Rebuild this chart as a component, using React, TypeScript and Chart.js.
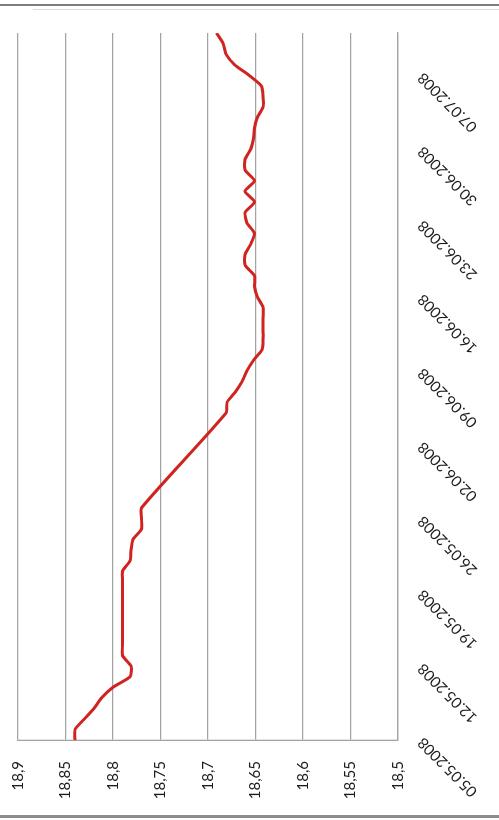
import React, { useEffect, useRef } from "react";
import { Chart, registerables } from "chart.js";

Chart.register(...registerables);

// Dates of the observations (dd.mm.yyyy)
const dates = [
  "05.05.2008", "06.05.2008", "07.05.2008", "08.05.2008", "09.05.2008", "10.05.2008",
  "11.05.2008", "12.05.2008", "13.05.2008", "14.05.2008", "15.05.2008", "16.05.2008",
  "17.05.2008", "18.05.2008", "19.05.2008", "20.05.2008", "21.05.2008", "22.05.2008",
  "23.05.2008", "24.05.2008", "25.05.2008", "26.05.2008", "27.05.2008",
  "05.06.2008", "06.06.2008", "07.06.2008", "08.06.2008", "09.06.2008", "10.06.2008",
  "11.06.2008", "12.06.2008", "13.06.2008", "14.06.2008", "15.06.2008", "16.06.2008",
  "17.06.2008", "18.06.2008", "19.06.2008", "20.06.2008", "21.06.2008", "22.06.2008",
  "23.06.2008", "24.06.2008", "25.06.2008", "26.06.2008", "27.06.2008", "28.06.2008",
  "29.06.2008", "30.06.2008", "01.07.2008", "02.07.2008", "03.07.2008", "04.07.2008",
  "05.07.2008", "06.07.2008", "07.07.2008", "08.07.2008", "09.07.2008", "10.07.2008",
  "11.07.2008",
];

const values = [
  18.84, 18.84, 18.83, 18.82, 18.812, 18.8,
  18.782, 18.781, 18.79, 18.79, 18.79, 18.79,
  18.79, 18.79, 18.79, 18.79, 18.79, 18.782,
  18.781, 18.779, 18.77, 18.77, 18.77,
  18.681, 18.68, 18.671, 18.664, 18.659, 18.652,
  18.643, 18.642, 18.642, 18.642, 18.642, 18.648,
  18.651, 18.651, 18.661, 18.661, 18.655, 18.651,
  18.659, 18.661, 18.651, 18.661, 18.651, 18.661,
  18.661, 18.655, 18.652, 18.651, 18.648, 18.642,
  18.642, 18.644, 18.657, 18.672, 18.681, 18.684,
  18.691,
];

const axisStart = "05.05.2008";
const axisEnd = "11.07.2008";

const dateTickLabels = [
  "05.05.2008", "12.05.2008", "19.05.2008", "26.05.2008", "02.06.2008",
  "09.06.2008", "16.06.2008", "23.06.2008", "30.06.2008", "07.07.2008",
];

const valueTicks = [18.5, 18.55, 18.6, 18.65, 18.7, 18.75, 18.8, 18.85, 18.9];

function toUTC(s: string): number {
  const [d, m, y] = s.split(".").map(Number);
  return Date.UTC(y, m - 1, d);
}
function dayOffset(s: string): number {
  return Math.round((toUTC(s) - toUTC(axisStart)) / 86400000);
}

const FONT = { family: "Lato, 'Open Sans', sans-serif", size: 15 };
const TEXT = "#1c1c1c";
const GRID = "#a3a3a3";

function ChartView() {
  const ref = useRef<HTMLCanvasElement | null>(null);
  useEffect(() => {
    if (!ref.current) return;
    const chart = new Chart(ref.current, {
      type: "line",
      data: {
        datasets: [
          {
            data: dates.map((d, i) => ({ x: dayOffset(d), y: values[i] })),
            borderColor: "#cf2420",
            borderWidth: 3,
            pointRadius: 0,
            tension: 0.2,
            fill: false,
          },
        ],
      },
      options: {
        animation: false,
        responsive: false,
        devicePixelRatio: 1,
        layout: { padding: { top: 18, right: 33, bottom: 0, left: 0 } },
        plugins: { legend: { display: false }, tooltip: { enabled: false } },
        scales: {
          x: {
            type: "linear",
            min: 0,
            max: dayOffset(axisEnd),
            afterBuildTicks: (s: any) => {
              s.ticks = dateTickLabels.map((l) => ({ value: dayOffset(l) }));
            },
            afterFit: (s: any) => {
              s.height = 101;
            },
            ticks: {
              autoSkip: false,
              minRotation: 45,
              maxRotation: 45,
              padding: 16,
              color: TEXT,
              font: FONT,
              callback: (v: any) => {
                const l = dateTickLabels.find((t) => dayOffset(t) === Math.round(Number(v)));
                return l || "";
              },
            },
            grid: { display: false, drawTicks: false },
            border: { display: true, color: GRID, width: 1.3 },
          },
          y: {
            type: "linear",
            min: 18.5,
            max: 18.9,
            afterBuildTicks: (s: any) => {
              s.ticks = valueTicks.map((v) => ({ value: v }));
            },
            afterFit: (s: any) => {
              s.width = 80;
              s.paddingTop = 0;
              s.paddingBottom = 0;
            },
            ticks: {
              padding: 21,
              color: TEXT,
              font: FONT,
              callback: (v: any) => String(Math.round(Number(v) * 100) / 100).replace(".", ","),
            },
            grid: { color: GRID, lineWidth: 1.3, drawTicks: false },
            border: { display: true, color: GRID, width: 1.3 },
          },
        },
      },
    } as any);
    return () => chart.destroy();
  }, []);
  return <canvas ref={ref} width={820} height={499} style={{ display: "block" }} />;
}

export default function App() {
  return (
    <div
      style={{
        position: "fixed",
        left: 0,
        top: 0,
        width: 499,
        height: 820,
        background: "#ffffff",
        overflow: "hidden",
      }}
    >
      <div
        style={{
          position: "absolute",
          left: 0,
          top: 0,
          width: 820,
          height: 499,
          transformOrigin: "0 0",
          transform: "translate(0px, 820px) rotate(-90deg)",
        }}
      >
        <ChartView />
      </div>
      <div style={{ position: "absolute", left: 0, top: 4, width: 499, height: 2, background: "#7d7d7d" }} />
      <div style={{ position: "absolute", left: 33, top: 9, width: 466, height: 1, background: "#dcdcdc" }} />
      <div style={{ position: "absolute", left: 0, top: 815, width: 499, height: 3, background: "#8c8c8c" }} />
    </div>
  );
}
